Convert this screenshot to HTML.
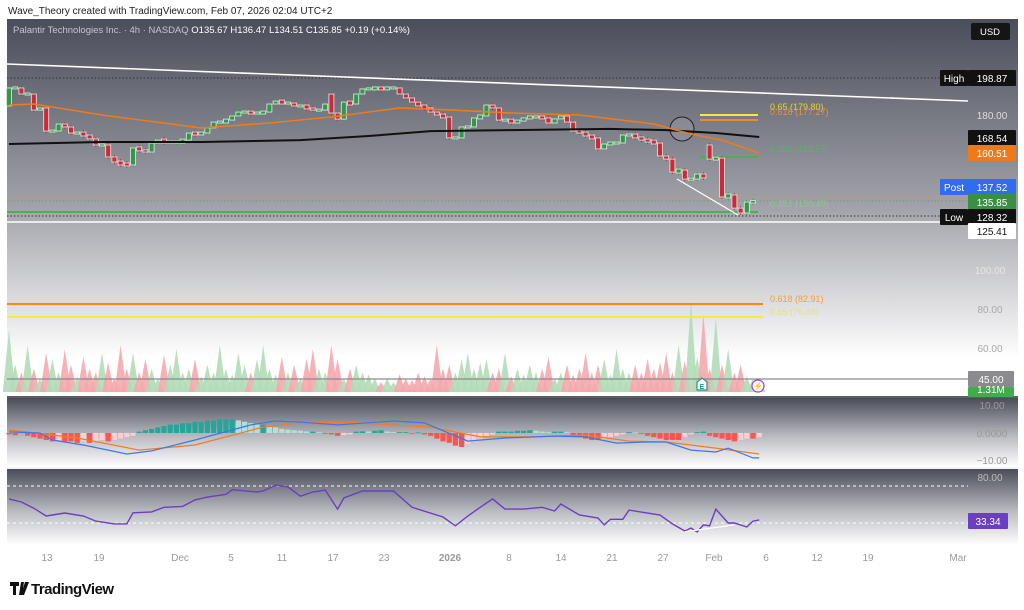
<!DOCTYPE html>
<html><head><meta charset="utf-8">
<style>
html,body{margin:0;padding:0;background:#fff;width:1024px;height:610px;overflow:hidden;font-family:"Liberation Sans",sans-serif;}
svg text{font-family:"Liberation Sans",sans-serif;}
</style></head>
<body>
<svg id="chart" width="1024" height="610" viewBox="0 0 1024 610" xmlns="http://www.w3.org/2000/svg">
<defs>
<linearGradient id="gMain" x1="0" y1="0" x2="0" y2="1">
<stop offset="0" stop-color="#4a4d5a"/><stop offset="0.5" stop-color="#a2a3aa"/><stop offset="0.9" stop-color="#ffffff"/><stop offset="1" stop-color="#ffffff"/>
</linearGradient>
<linearGradient id="gPane" x1="0" y1="0" x2="0" y2="1">
<stop offset="0" stop-color="#4a4c58"/><stop offset="0.55" stop-color="#b9bac0"/><stop offset="1" stop-color="#ffffff"/>
</linearGradient>
</defs>
<text x="8" y="14" font-size="10" fill="#222">Wave_Theory created with TradingView.com, Feb 07, 2026 02:04 UTC+2</text>
<rect x="7" y="19" width="1011" height="377" fill="url(#gMain)"/>
<rect x="7" y="398" width="1011" height="69" fill="url(#gPane)"/>
<rect x="7" y="469" width="1011" height="76" fill="url(#gPane)"/>
<rect x="7" y="396" width="1011" height="2" fill="#5a5c66"/>
<rect x="7" y="467" width="1011" height="2" fill="#f4f4f4"/>
<text x="13" y="33" font-size="9.5" fill="#c4c6cc">Palantir Technologies Inc. · 4h · NASDAQ <tspan fill="#fff">O135.67 H136.47 L134.51 C135.85 +0.19 (+0.14%)</tspan></text>
<rect x="971" y="23" width="39" height="17" rx="2" fill="#151515"/>
<text x="990" y="35" font-size="9.5" fill="#fff" text-anchor="middle">USD</text>
<g id="vol"></g>
<g id="static"></g>
<g id="candles"></g>
<g id="macd"></g>
<g id="rsi"></g>
<g id="axis"></g>
<g>
<path d="M10 582 h9 v4 h-3 v9 h-3 v-9 h-3z M21 582 h3 l-2 13 h-3z M25 582 h4 l-5 13 h-3z" fill="#111"/>
<text x="31" y="594" font-size="15" font-weight="bold" fill="#111" letter-spacing="-0.5">TradingView</text>
</g>
</svg>
<script>
// ---- data ----
const closes=[193.8,193.8,190.7,190.7,182.5,183.6,171.8,171.8,175.4,173.9,170.8,170.8,169.8,167.8,164.7,164.7,158.6,156.0,155.0,154.5,163.2,162.2,161.1,165.7,167.2,166.2,166.2,166.2,167.2,170.8,170.3,170.8,173.4,176.4,176.4,177.4,179.5,181.5,181.5,181.0,181.0,181.5,185.6,187.1,186.1,186.1,184.6,184.6,183.6,182.5,182.5,185.6,181.0,177.9,186.6,185.6,190.7,193.3,193.3,193.8,193.3,193.8,193.8,190.7,188.7,186.6,184.6,183.6,181.5,180.0,179.0,168.3,168.3,173.9,173.9,178.5,179.5,185.1,183.6,177.4,177.4,176.4,176.9,178.5,179.0,179.0,178.5,175.9,178.0,179.5,176.4,171.8,171.3,169.3,168.3,162.7,165.2,165.7,165.7,169.8,169.8,168.8,167.2,166.7,165.7,159.1,157.5,150.9,151.9,147.3,147.3,149.9,147.9,157.5,158.0,138.2,139.2,132.5,130.0,135.6,135.85];
const firstOpen=184.6;
const gapOpenIdx=[52,113];
const gapOpenVal=[190.7,164.7];
const emaBars=[0,4,15,31,42,52,63,71,81,92,104,110,115,121];
const emaVals=[185.1,185.6,180,173.4,175.9,179,183.6,182.6,181,180,175.4,170.3,167.2,160.6];
const smaBars=[0,15,31,47,58,68,81,97,106,114,121];
const smaVals=[165.2,166.2,166.2,167.2,169.3,171.8,172.3,172.9,172.3,170.8,168.8];
const volumes=[70,52,48,62,50,45,58,55,48,60,52,46,56,50,48,58,53,45,62,50,58,48,55,50,45,57,52,60,48,50,55,46,52,48,62,50,47,58,52,48,55,62,50,47,56,48,52,45,55,60,50,48,62,55,45,50,52,48,47,45,43,45,43,47,45,44,48,46,45,62,50,52,48,55,58,50,53,55,48,50,58,46,50,47,52,48,50,56,45,48,52,47,50,58,48,52,55,47,60,50,48,52,48,55,50,53,58,48,62,54,85,56,78,50,76,52,60,48,52,46,45,44];
const macdBars=[0,5,7,12,19,23,30,39,43,47,53,62,67,74,80,88,93,98,103,106,110,114,116,120,121];
const macdVals=[0.4,0,-2.5,-4.3,-7.5,-6.4,-2.5,2.9,4.3,3.9,2.9,4.3,3.6,-2.9,-1.8,-1.1,-1.4,-3.6,-3.2,-3.2,-6.1,-6.8,-5.4,-8.9,-8.9];
const sigBars=[0,11,21,30,41,48,56,68,76,84,93,100,106,114,121];
const sigVals=[1.1,-1.8,-6.1,-4.3,2.1,3.9,3.6,2.1,-1.4,-1.4,-0.7,-2.9,-3.2,-5.4,-7.5];
const hist=[-0.5,-0.8,0.5,-1,-1.5,-2,-2.5,-3,-2.5,-3,-3,-3.5,-3,-3.5,-3,-2.5,-3,-2.5,-2,-1.5,-1,0.5,1,1.5,2,2.5,3,3,3.5,3.5,4,4,4.5,4.5,5,5,5,4.5,4,3.5,3,3,2.5,2,1.5,1.2,1,0.8,0.5,0.5,0.3,-0.3,-0.5,-1,-0.8,-0.5,0.5,0.6,0.5,0.8,1,0.5,0.3,0.3,0.3,-0.2,0.2,-0.5,-1,-2,-3,-3.5,-4.5,-5,-4,-3,-2,-1,-0.5,0.5,0.5,0.5,0.8,0.8,1,0.8,0.5,0.3,0.5,0.5,0.3,-1,-1.5,-2,-2.5,-2.5,-2,-1.5,-1,-0.5,0.3,0.2,-0.3,-1,-1.5,-2,-2.5,-2.5,-2.5,-1.5,-0.5,0.3,0.5,-1,-1.5,-2,-2.5,-3,-2.5,-2,-2,-1.5];
const rsiBars=[0,2,4,6,9,12,14,17,19,20,23,25,28,30,32,35,36,40,41,43,45,47,49,51,53,54,57,62,65,70,72,74,76,78,80,83,86,88,89,92,95,96,97,99,100,105,107,109,110,111,112,113,114,116,117,119,120,121];
const rsiVals=[56,52.7,46,37.6,40.8,37.6,32,29,29,41,42,47,48,55,58,61,66,63.5,64.6,71,69,59,63.5,65.7,45,57,64.6,64.6,47,36.5,27,37.6,47,56,45,45,47,43,50.5,38.6,35.4,28,34,34,44,38.6,29,21.4,24.6,20.3,28,27,45,30,30,25.7,32,33.34];
const timeLabels=["13","19","Dec","5","11","17","23","2026","8","14","21","27","Feb","6","12","19","Mar"];
const timeX=[47,99,180,231,282,333,384,450,509,561,612,663,714,766,817,868,958];

// ---- scales ----
const NS="http://www.w3.org/2000/svg";
const xs=i=>9+i*6.2;
const py=p=>115-(p-180)*1.96;
const vy=v=>271-(v-100)*1.95;
const my=v=>433-v*2.8;
const ry=v=>486-(v-70)*0.925;
function mk(parent,tag,attrs){const e=document.createElementNS(NS,tag);for(const k in attrs)e.setAttribute(k,attrs[k]);document.getElementById(parent).appendChild(e);return e;}
function txt(parent,x,y,s,size,fill,anchor,weight){const t=mk(parent,'text',{x:x,y:y,'font-size':size,fill:fill,'text-anchor':anchor||'start'});if(weight)t.setAttribute('font-weight',weight);t.textContent=s;return t;}

// ---- static drawings ----
let e;
e=mk('static','line',{x1:7,y1:78,x2:940,y2:78,stroke:'#333',"stroke-dasharray":'1.5,2',"stroke-width":1});


e=mk('static','line',{x1:7,y1:64,x2:968,y2:101,stroke:'#fff',"stroke-width":1.6});


e=mk('static','line',{x1:7,y1:197,x2:968,y2:197,stroke:'#e08a55',"stroke-dasharray":'1.5,2',"stroke-width":0.8});


e=mk('static','line',{x1:7,y1:201,x2:968,y2:201,stroke:'#5a9a60',"stroke-dasharray":'1.5,2',"stroke-width":0.8});


e=mk('static','line',{x1:7,y1:212,x2:758,y2:212,stroke:'#4caf50',"stroke-width":2});


e=mk('static','line',{x1:7,y1:216,x2:940,y2:216,stroke:'#333',"stroke-dasharray":'1.5,2',"stroke-width":1});


e=mk('static','line',{x1:7,y1:222,x2:968,y2:222,stroke:'#fff',"stroke-width":1.6});


e=mk('static','line',{x1:700,y1:115,x2:758,y2:115,stroke:'#f5e94a',"stroke-width":2});


e=mk('static','line',{x1:700,y1:120,x2:758,y2:120,stroke:'#f08a24',"stroke-width":2});


e=mk('static','line',{x1:700,y1:157,x2:758,y2:157,stroke:'#4caf50',"stroke-width":2});


e=txt('static',770,110,'0.65 (179.80)',9,'#e8d23a');


e=txt('static',770,115,'0.618 (177.27)',9,'#e8923a');


e=txt('static',770,152,'0.382 (158.57)',9,'#5fae6a');


e=txt('static',770,207,'0.382 (130.49)',9,'#8fc095');


e=mk('static','circle',{cx:682,cy:129,r:12,fill:'rgba(150,150,160,0.55)',stroke:'#222',"stroke-width":1});


e=mk('static','line',{x1:677,y1:179,x2:738,y2:215,stroke:'#fff',"stroke-width":1.3});


e=mk('static','line',{x1:7,y1:304,x2:763,y2:304,stroke:'#f58a10',"stroke-width":2});


e=mk('static','line',{x1:7,y1:317,x2:763,y2:317,stroke:'#f5ee30',"stroke-width":2});


e=txt('static',770,302,'0.618 (82.91)',9,'#eea040');


e=txt('static',770,315,'0.65 (76.46)',9,'#ece070');



// ---- volume ----
const base=392;
for(let i=0;i<volumes.length;i++){
  const ci=Math.min(i,closes.length-1);
  const o=ci===0?firstOpen:(gapOpenIdx.indexOf(ci)>=0?gapOpenVal[gapOpenIdx.indexOf(ci)]:closes[ci-1]);
  const up=closes[ci]>=o;
  const x=xs(i);
  const p=mk('vol','polygon',{points:`${x-6.2},${base} ${x},${vy(volumes[i])} ${x+6.2},${base}`,fill:up?'#b3dcb8':'#f4a8ad','fill-opacity':0.9});
  
  
}
e=mk('static','line',{x1:7,y1:379,x2:968,y2:379,stroke:'#8a8a8f',"stroke-width":1.2});



// ---- candles ----
for(let i=0;i<closes.length;i++){
  const gi=gapOpenIdx.indexOf(i);
  const o=i===0?firstOpen:(gi>=0?gapOpenVal[gi]:closes[i-1]);
  const c=closes[i];
  const up=c>=o;
  const x=xs(i);
  let top=py(Math.max(o,c)),bot=py(Math.min(o,c));
  if(bot-top<2){top-=1;bot+=1;}
  const w=mk('candles','line',{x1:x,y1:top-2,x2:x,y2:bot+2,stroke:up?'#3f9c4f':'#c0303c',"stroke-width":1});
  
  
  const r=mk('candles','rect',{x:x-2.5,y:top,width:5,height:bot-top,fill:up?'#2f9a45':'#c72c38',stroke:'#e8e8e8',"stroke-width":0.8});
  
  
}
function pathFrom(bars,vals,yf){return bars.map((b,k)=>(k?'L':'M')+xs(b).toFixed(1)+','+yf(vals[k]).toFixed(1)).join(' ');}
e=mk('candles','path',{d:pathFrom(smaBars,smaVals,py),fill:'none',stroke:'#111',"stroke-width":2});


e=mk('candles','path',{d:pathFrom(emaBars,emaVals,py),fill:'none',stroke:'#f07a1a',"stroke-width":1.6});



// ---- MACD ----
for(let i=0;i<hist.length;i++){
  const v=hist[i],prev=i?hist[i-1]:0;
  let col=v>=0?(v>=prev?'#26a69a':'#b2dfdb'):(v<=prev?'#ff5252':'#ffcdd2');
  const y0=my(0),y1=my(v);
  const r=mk('macd','rect',{x:xs(i)-2.6,y:Math.min(y0,y1),width:5.2,height:Math.max(0.8,Math.abs(y1-y0)),fill:col});
  
  
}
e=mk('macd','path',{d:pathFrom(sigBars,sigVals,my),fill:'none',stroke:'#f57c20',"stroke-width":1.2});


e=mk('macd','path',{d:pathFrom(macdBars,macdVals,my),fill:'none',stroke:'#3c78e8',"stroke-width":1.2});



// ---- RSI ----
[70,30].forEach(v=>{
  const l=mk('rsi','line',{x1:7,y1:ry(v),x2:968,y2:ry(v),stroke:'#fff',"stroke-dasharray":'3,3',"stroke-width":1});
  
  
});
e=mk('rsi','path',{d:pathFrom(rsiBars,rsiVals,ry),fill:'none',stroke:'#6a3fc1',"stroke-width":1.4});


e=mk('rsi','line',{x1:xs(109),y1:ry(20.5),x2:xs(117),y2:ry(28),stroke:'#fff',"stroke-width":1.3});



// ---- axis labels ----
function box(x,y,w,h,bg,label,fg,name){
  const r=mk('axis','rect',{x:x,y:y,width:w,height:h,fill:bg,rx:1});
  
  
  const t=txt('axis',x+w/2,y+h-4,label,10,fg,'middle');
  
  
}
box(940,70,28,16,'#111','High','#fff','high-tag');
box(968,70,48,16,'#111','198.87','#fff','high-price-label');
e=txt('axis',992,119,'180.00',10,'#ddd','middle');


box(968,130,48,16,'#111','168.54','#fff','sma-price-label');
box(968,145,48,16,'#f07a1a','160.51','#fff','ema-price-label');
box(940,179,28,16,'#2f6cf0','Post','#fff','post-tag');
box(968,179,48,16,'#2f6cf0','137.52','#fff','post-price-label');
box(968,194,48,16,'#3a8f45','135.85','#fff','last-price-label');
box(940,209,28,16,'#111','Low','#fff','low-tag');
box(968,209,48,16,'#111','128.32','#fff','low-price-label');
box(968,223,48,16,'#fff','125.41','#111','support-price-label');
[['100.00',274,'#e6e6e6'],['80.00',313,'#aaa'],['60.00',352,'#aaa']].forEach(a=>{
  const t=txt('axis',990,a[1],a[0],10,a[2],'middle');
  
  
});
box(968,371,46,16,'#8a8a8f','45.00','#fff','level-45-label');
box(968,387,46,10,'#3fae4a','1.31M','#fff','volume-label');
[['10.00',409],['0.0000',437],['−10.00',464]].forEach(a=>{
  const t=txt('axis',992,a[1],a[0],10,'#999','middle');
  
  
});
e=txt('axis',990,481,'80.00',10,'#bbb','middle');


box(968,513,40,16,'#6a3fc1','33.34','#fff','rsi-value-label');
for(let i=0;i<timeLabels.length;i++){
  const t=txt('axis',timeX[i],561,timeLabels[i],10,'#999','middle',timeLabels[i]==='2026'?'bold':null);
  
  
}
e=mk('axis','path',{d:'M697 390 v-8 l5 -4 l5 4 v8 z',fill:'#fff',stroke:'#1a9a8a',"stroke-width":1.2});


e=txt('axis',702,389,'E',7,'#1a9a8a','middle','bold');


e=mk('axis','circle',{cx:758,cy:386,r:6,fill:'#fff',stroke:'#9a3fc8',"stroke-width":1.2});


e=txt('axis',758,389,'⚡',8,'#9a3fc8','middle');


</script>
</body></html>
